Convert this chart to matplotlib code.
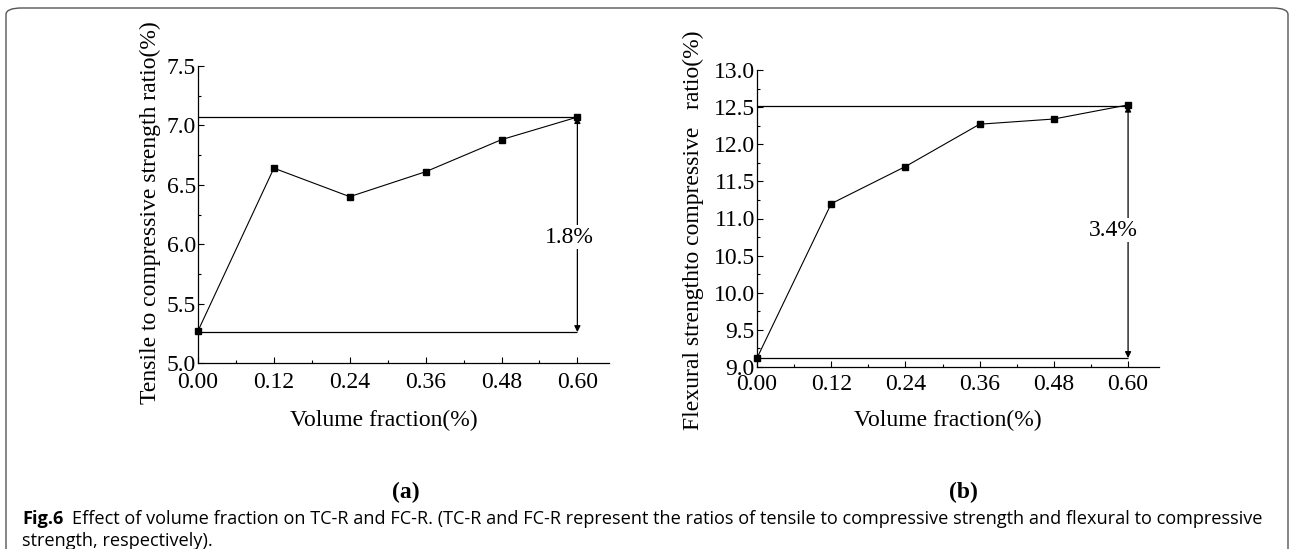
import numpy as np
import matplotlib.pyplot as plt
from matplotlib.patches import FancyBboxPatch
from matplotlib.ticker import MultipleLocator, FixedLocator

#-------------------------------------------------------------------------------
# Fig.6  TC-R and FC-R vs volume fraction
#-------------------------------------------------------------------------------

vol_frac = [0.00, 0.12, 0.24, 0.36, 0.48, 0.60]
xtick_labels = ['0.00', '0.12', '0.24', '0.36', '0.48', '0.60']

tc_ratio = [5.27, 6.64, 6.40, 6.61, 6.88, 7.07]
fc_ratio = [9.12, 11.20, 11.70, 12.27, 12.34, 12.53]

tc_span = [5.26, 7.07]
fc_span = [9.12, 12.52]
tc_label = '1.8%'
fc_label = '3.4%'

plt.rcParams['font.family'] = ['Liberation Serif', 'DejaVu Serif']
FS = 17

W, H = 1290, 549
fig = plt.figure(figsize=(W / 100, H / 100), dpi=100)


def px_axes(x0, x1, ytop, ybot):
    return fig.add_axes([x0 / W, (H - ybot) / H, (x1 - x0) / W, (ybot - ytop) / H])


def style_axes(ax, ylim, ystep, xpad):
    ax.set_xlim(0, 0.65)
    ax.set_ylim(*ylim)
    ax.spines['top'].set_visible(False)
    ax.spines['right'].set_visible(False)
    for s in ('left', 'bottom'):
        ax.spines[s].set_linewidth(0.9)
    ax.xaxis.set_major_locator(FixedLocator(vol_frac))
    ax.set_xticklabels(xtick_labels)
    ax.xaxis.set_minor_locator(MultipleLocator(0.06))
    ax.yaxis.set_major_locator(MultipleLocator(ystep))
    ax.yaxis.set_minor_locator(MultipleLocator(ystep / 2))
    ax.yaxis.set_major_formatter(plt.FormatStrFormatter('%.1f'))
    ax.tick_params(which='major', direction='in', length=4, width=0.8,
                   labelsize=FS, pad=1.5)
    ax.tick_params(which='minor', direction='in', length=2.5, width=0.8)
    ax.tick_params(axis='x', which='major', pad=xpad)


def draw_panel(ax, y, span, label, label_y, label_x):
    ax.plot(vol_frac, y, color='black', lw=0.8, marker='s', ms=5,
            clip_on=False, zorder=3)
    ax.hlines(span, 0, vol_frac[-1], color='black', lw=0.9, zorder=2)
    ax.annotate('', xy=(vol_frac[-1], span[1]), xytext=(vol_frac[-1], span[0]),
                arrowprops=dict(arrowstyle='<|-|>', color='black', lw=0.9,
                                mutation_scale=9, shrinkA=0, shrinkB=0))
    ax.text(label_x, label_y, label, ha='center', va='center', fontsize=FS,
            bbox=dict(facecolor='white', edgecolor='none', pad=1), zorder=4)


# (a) tensile to compressive
ax1 = px_axes(198, 609, 66, 363)
style_axes(ax1, (5.0, 7.5), 0.5, 6.5)
draw_panel(ax1, tc_ratio, tc_span, tc_label, 6.06, 0.588)
ax1.text(-0.117, 0.505, 'Tensile to compressive strength ratio(%)',
         transform=ax1.transAxes, rotation=90, ha='center', va='center',
         fontsize=FS)
ax1.text(0.4526, -0.193, 'Volume fraction(%)', transform=ax1.transAxes,
         ha='center', va='center', fontsize=FS)

# (b) flexural to compressive
ax2 = px_axes(757, 1159, 70, 367)
style_axes(ax2, (9.0, 13.0), 0.5, 5)
draw_panel(ax2, fc_ratio, fc_span, fc_label, 10.84, 0.576)
ax2.text(-0.159, 0.46, 'Flexural strengthto compressive   ratio(%)',
         transform=ax2.transAxes, rotation=90, ha='center', va='center',
         fontsize=FS)
ax2.text(0.475, -0.18, 'Volume fraction(%)', transform=ax2.transAxes,
         ha='center', va='center', fontsize=FS)

# panel letters
fig.text(406 / W, 1 - 492 / H, '(a)', ha='center', va='center',
         fontsize=FS, fontweight='bold')
fig.text(963 / W, 1 - 492 / H, '(b)', ha='center', va='center',
         fontsize=FS, fontweight='bold')

# caption
cap_font = ['Open Sans', 'DejaVu Sans']
CFS = 13.1
t1 = fig.text(22 / W, 1 - 519 / H, 'Fig.6', ha='left', va='center',
              fontsize=CFS, fontweight='bold', family=cap_font)
fig.canvas.draw()
bb = t1.get_window_extent()
fig.text((bb.x1 + 9) / W, 1 - 519 / H,
         'Effect of volume fraction on TC-R and FC-R. (TC-R and FC-R represent '
         'the ratios of tensile to compressive strength and flexural to compressive',
         ha='left', va='center', fontsize=CFS, family=cap_font)
fig.text(22 / W, 1 - 541 / H, 'strength, respectively).', ha='left',
         va='center', fontsize=CFS, family=cap_font)

# frame
frame = FancyBboxPatch((6 / W, -20 / H), 1282 / W, (H - 8 + 20) / H,
                       boxstyle='round,pad=0,rounding_size=0.012',
                       transform=fig.transFigure, facecolor='none',
                       edgecolor='#555555', lw=1.0, clip_on=False)
fig.add_artist(frame)

fig.savefig('out.png', dpi=100)
plt.close()
